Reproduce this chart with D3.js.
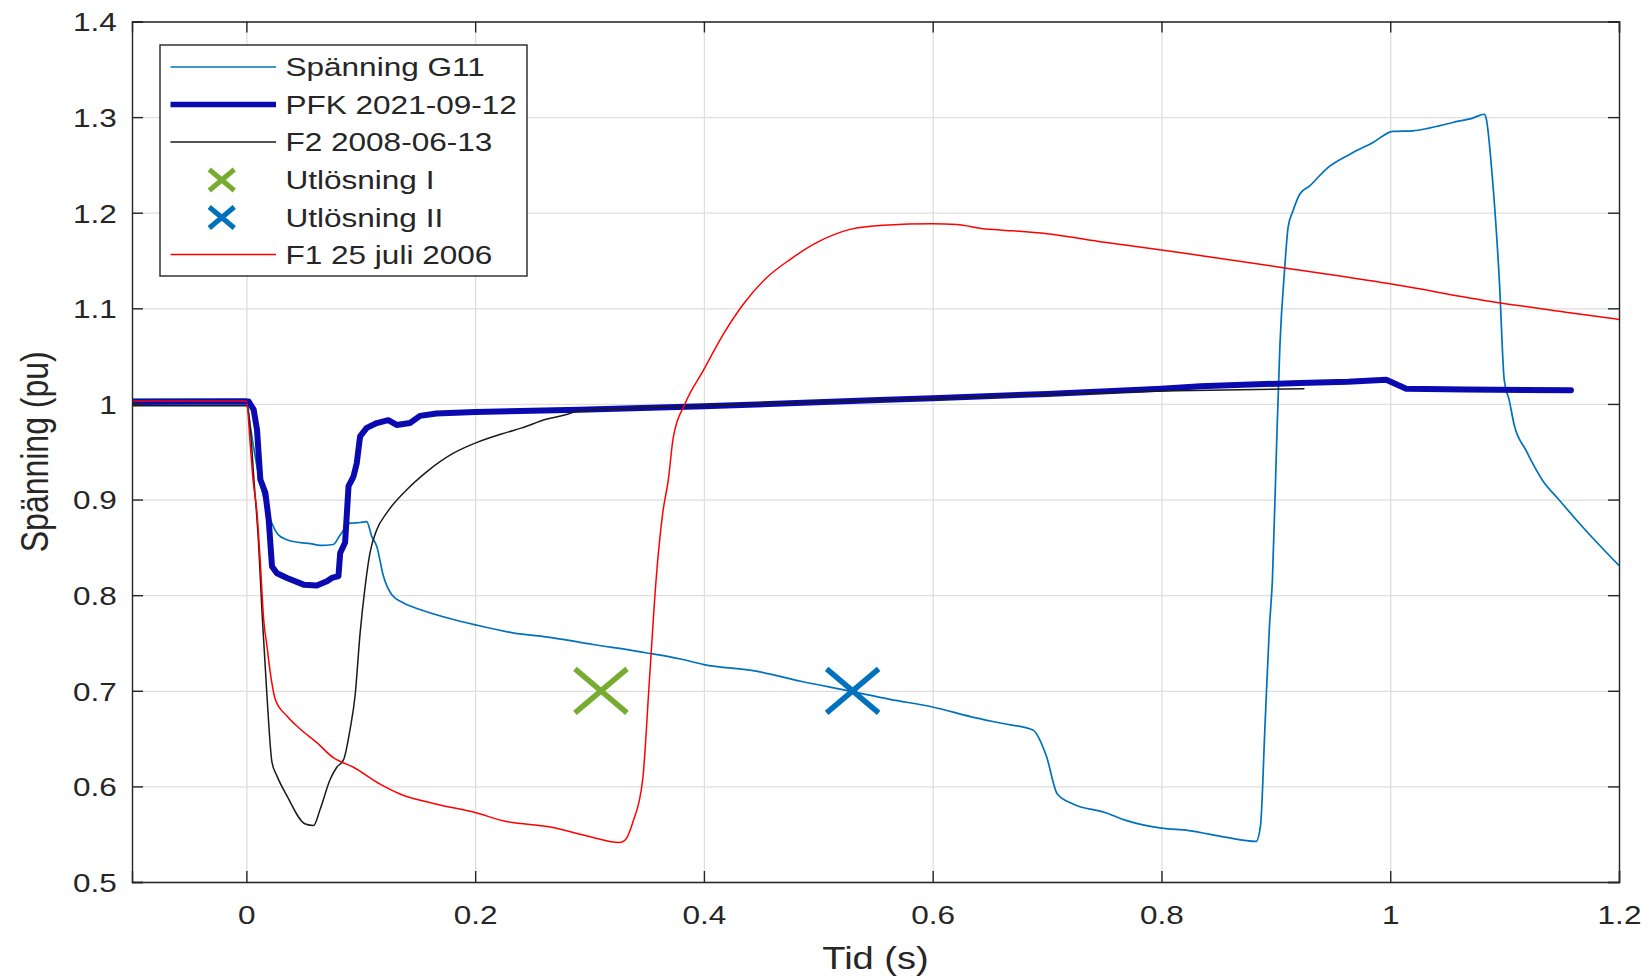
<!DOCTYPE html>
<html>
<head>
<meta charset="utf-8">
<script src="https://cdn.jsdelivr.net/npm/d3@7"></script>
<style>
  html, body { margin: 0; padding: 0; background: #ffffff; }
  svg { display: block; }
  text { font-family: "Liberation Sans", Arial, Helvetica, sans-serif; fill: #262626; }
</style>
</head>
<body>
<svg id="chart" width="1650" height="979"></svg>
<script>
// ---------------- data ----------------
const xTicks = [0, 0.2, 0.4, 0.6, 0.8, 1, 1.2];
const yTicks = [0.5, 0.6, 0.7, 0.8, 0.9, 1, 1.1, 1.2, 1.3, 1.4];
const xTickLabels = ["0", "0.2", "0.4", "0.6", "0.8", "1", "1.2"];
const yTickLabels = ["0.5", "0.6", "0.7", "0.8", "0.9", "1", "1.1", "1.2", "1.3", "1.4"];
const seriesNames = ["Spänning G11", "PFK 2021-09-12", "F2 2008-06-13", "Utlösning I", "Utlösning II", "F1 25 juli 2006"];

// Spänning G11 [t, pu]
const g11 = [[-0.1,1.005],[0,1.005],[0.0035,0.976],[0.01,0.93],[0.018,0.89],[0.0224,0.875],[0.028,0.863],[0.0355,0.858],[0.047,0.855],[0.0558,0.854],[0.0645,0.852],[0.076,0.853],[0.082,0.863],[0.0907,0.8754],[0.0994,0.876],[0.1052,0.877],[0.1096,0.8615],[0.114,0.851],[0.1198,0.82],[0.127,0.8006],[0.137,0.792],[0.1518,0.785],[0.181,0.7745],[0.2,0.769],[0.233,0.7606],[0.268,0.7554],[0.303,0.7484],[0.3407,0.7415],[0.348,0.740],[0.3785,0.7335],[0.4,0.7274],[0.4457,0.7205],[0.4847,0.710],[0.5276,0.6997],[0.5627,0.691],[0.6,0.683],[0.633,0.673],[0.66,0.666],[0.6876,0.659],[0.6993,0.632],[0.709,0.592],[0.7227,0.5816],[0.75,0.573],[0.7696,0.5642],[0.8,0.5563],[0.824,0.5538],[0.8554,0.5469],[0.8827,0.5424],[0.8866,0.559],[0.8905,0.663],[0.8944,0.767],[0.897,0.816],[0.9006,0.955],[0.9035,1.0595],[0.9078,1.143],[0.9107,1.1848],[0.915,1.202],[0.921,1.2196],[0.9296,1.228],[0.944,1.2457],[0.9645,1.261],[0.985,1.2735],[1.0023,1.285],[1.0198,1.2857],[1.034,1.2885],[1.0547,1.2944],[1.0721,1.299],[1.0823,1.303],[1.0837,1.2996],[1.0895,1.2335],[1.0954,1.129],[1.0997,1.0247],[1.104,1.004],[1.1084,0.978],[1.1186,0.9516],[1.1332,0.92],[1.1477,0.8995],[1.168,0.8716],[1.2,0.831]];

// PFK 2021-09-12
const pfk = [[-0.1,1.002],[0.002,1.0025],[0.0064,0.994],[0.0093,0.973],[0.0122,0.921],[0.0166,0.907],[0.0195,0.879],[0.0224,0.83],[0.0267,0.823],[0.0355,0.818],[0.05,0.811],[0.0616,0.81],[0.0704,0.8145],[0.0747,0.818],[0.0805,0.82],[0.082,0.844],[0.0863,0.855],[0.0893,0.914],[0.0936,0.924],[0.0965,0.938],[0.0994,0.966],[0.1052,0.975],[0.114,0.98],[0.124,0.983],[0.1314,0.978],[0.143,0.98],[0.1518,0.9875],[0.166,0.99],[0.2,0.9915],[0.291,0.994],[0.4,0.9975],[0.553,1.004],[0.6,1.006],[0.7,1.0105],[0.8,1.016],[0.834,1.0185],[0.921,1.022],[0.963,1.0233],[0.9965,1.0254],[1.014,1.016],[1.066,1.015],[1.158,1.0143]];

// F2 2008-06-13
const f2 = [[-0.1,0.998],[0.0,0.998],[0.0035,0.973],[0.0064,0.924],[0.0108,0.851],[0.0137,0.781],[0.018,0.6945],[0.0224,0.625],[0.0267,0.611],[0.0355,0.59],[0.0515,0.5606],[0.0587,0.559],[0.0645,0.576],[0.0733,0.6075],[0.079,0.62],[0.085,0.628],[0.0907,0.66],[0.095,0.6945],[0.0994,0.76],[0.1038,0.809],[0.108,0.844],[0.114,0.8685],[0.1227,0.886],[0.14,0.91],[0.1576,0.929],[0.181,0.9485],[0.2,0.959],[0.227,0.970],[0.241,0.975],[0.262,0.984],[0.279,0.9886],[0.29,0.9925],[0.3785,0.9972],[0.5,1.002],[0.6,1.0055],[0.7,1.01],[0.8,1.0136],[0.925,1.0158]];

// Utlösning markers
const utlI = [[0.31, 0.70]];
const utlII = [[0.53, 0.70]];

// F1 25 juli 2006
const f1 = [[-0.1,1.003],[0.0,1.003],[0.0035,0.9555],[0.0058,0.9207],[0.0093,0.886],[0.0122,0.8337],[0.0151,0.7745],[0.018,0.7467],[0.0209,0.719],[0.0253,0.691],[0.0355,0.6736],[0.047,0.66],[0.0616,0.6458],[0.076,0.63],[0.0936,0.62],[0.1169,0.6023],[0.1343,0.592],[0.1663,0.5814],[0.2,0.5727],[0.2245,0.564],[0.268,0.557],[0.2971,0.5484],[0.3262,0.5414],[0.3306,0.5432],[0.3378,0.5623],[0.3465,0.6075],[0.3524,0.712],[0.3582,0.8163],[0.364,0.886],[0.3688,0.92],[0.3732,0.965],[0.3834,1.0],[0.3994,1.0348],[0.417,1.073],[0.4344,1.1043],[0.4548,1.132],[0.4752,1.151],[0.4985,1.1687],[0.5277,1.1826],[0.5569,1.187],[0.6,1.1885],[0.621,1.1878],[0.6443,1.1833],[0.6589,1.182],[0.7,1.178],[0.75,1.169],[0.8,1.161],[0.8337,1.1552],[0.9035,1.143],[1.0,1.1256],[1.0837,1.108],[1.1535,1.096],[1.2,1.0884]];

// ---------------- layout ----------------
const L = 132, R = 1619, T = 21.5, B = 882;
const SX = 1.19;               // horizontal text stretch of the original
const AX = "#262626";
const svg = d3.select("#chart");

const x = d3.scaleLinear().domain([-0.1, 1.2]).range([L, R]);
const y = d3.scaleLinear().domain([0.5, 1.4]).range([B, T]);

svg.append("rect").attr("width", 1650).attr("height", 979).attr("fill", "#fff");

// grid
const grid = svg.append("g");
grid.append("g").attr("transform", `translate(0,${B})`)
  .call(d3.axisBottom(x).tickValues(xTicks).tickSize(-(B - T)).tickFormat(""))
  .call(g => g.select(".domain").remove())
  .call(g => g.selectAll("line").attr("stroke", "#dedede").attr("stroke-width", 1.3));
grid.append("g").attr("transform", `translate(${L},0)`)
  .call(d3.axisLeft(y).tickValues(yTicks).tickSize(-(R - L)).tickFormat(""))
  .call(g => g.select(".domain").remove())
  .call(g => g.selectAll("line").attr("stroke", "#dedede").attr("stroke-width", 1.3));

// data
svg.append("clipPath").attr("id", "clip").append("rect")
  .attr("x", L).attr("y", T).attr("width", R - L).attr("height", B - T);
const plot = svg.append("g").attr("clip-path", "url(#clip)");
const line = d3.line().x(d => x(d[0])).y(d => y(d[1]));
const smooth = d3.line().x(d => x(d[0])).y(d => y(d[1])).curve(d3.curveMonotoneX);

plot.append("path").datum(g11).attr("d", smooth).attr("fill", "none")
  .attr("stroke", "#0072BD").attr("stroke-width", 1.7).attr("stroke-linejoin", "round");
plot.append("path").datum(pfk).attr("d", line).attr("fill", "none")
  .attr("stroke", "#0a0ab0").attr("stroke-width", 6).attr("stroke-linejoin", "round").attr("stroke-linecap", "round");
plot.append("path").datum(f2).attr("d", smooth).attr("fill", "none")
  .attr("stroke", "#1a1a1a").attr("stroke-width", 1.5).attr("stroke-linejoin", "round");

function cross(g, cx, cy, hx, hy, color, w) {
  g.append("path")
    .attr("d", `M${cx - hx},${cy - hy}L${cx + hx},${cy + hy}M${cx - hx},${cy + hy}L${cx + hx},${cy - hy}`)
    .attr("stroke", color).attr("stroke-width", w).attr("fill", "none");
}
utlI.forEach(d => cross(plot, x(d[0]), y(d[1]), 26, 22, "#77AC30", 5.5));
utlII.forEach(d => cross(plot, x(d[0]), y(d[1]), 26, 22, "#0072BD", 5.5));

plot.append("path").datum(f1).attr("d", smooth).attr("fill", "none")
  .attr("stroke", "#ff0000").attr("stroke-width", 1.5).attr("stroke-linejoin", "round");

// axes box + inward ticks
const TK = 11;
const axB = svg.append("g").attr("transform", `translate(0,${B})`)
  .call(d3.axisBottom(x).tickValues(xTicks).tickSize(-TK).tickFormat((d, i) => xTickLabels[i]));
axB.selectAll("text").attr("y", 33).attr("dy", "0.35em")
  .attr("transform", `scale(${SX},1)`).style("font-size", "26.5px").attr("fill", AX);
const axT = svg.append("g").attr("transform", `translate(0,${T})`)
  .call(d3.axisTop(x).tickValues(xTicks).tickSize(-TK).tickFormat(""));
const axL = svg.append("g").attr("transform", `translate(${L},0)`)
  .call(d3.axisLeft(y).tickValues(yTicks).tickSize(-TK).tickFormat((d, i) => yTickLabels[i]));
axL.selectAll("text").attr("x", -15.3 / SX).attr("dy", "0.35em")
  .attr("transform", `scale(${SX},1)`).style("font-size", "26.5px").attr("fill", AX);
const axR = svg.append("g").attr("transform", `translate(${R},0)`)
  .call(d3.axisRight(y).tickValues(yTicks).tickSize(-TK).tickFormat(""));
[axB, axT, axL, axR].forEach(a => {
  a.select(".domain").attr("stroke", AX).attr("stroke-width", 1.4);
  a.selectAll(".tick line").attr("stroke", AX).attr("stroke-width", 1.4);
});

// axis labels
svg.append("g").attr("transform", `translate(${(L + R) / 2},958) scale(${SX},1)`)
  .append("text").attr("text-anchor", "middle").attr("dy", "0.35em")
  .style("font-size", "32px").text("Tid (s)");
svg.append("g").attr("transform", `translate(35,${(T + B) / 2}) rotate(-90) scale(1,${SX})`)
  .append("text").attr("text-anchor", "middle").attr("dy", "0.35em")
  .style("font-size", "32px").text("Spänning (pu)");

// legend
const lg = svg.append("g");
lg.append("rect").attr("x", 160).attr("y", 45).attr("width", 367).attr("height", 231)
  .attr("fill", "#fff").attr("stroke", AX).attr("stroke-width", 1.4);
const rowsY = [67, 104.5, 142, 180, 217.5, 254.5];
const lx0 = 170.5, lx1 = 276, tx = 285.5;
const legendStyles = [
  {type: "line", color: "#0072BD", w: 1.7},
  {type: "line", color: "#0a0ab0", w: 5.7},
  {type: "line", color: "#1a1a1a", w: 1.5},
  {type: "cross", color: "#77AC30"},
  {type: "cross", color: "#0072BD"},
  {type: "line", color: "#ff0000", w: 1.5}
];
seriesNames.forEach((name, i) => {
  const st = legendStyles[i], ry = rowsY[i];
  if (st.type === "line") {
    lg.append("line").attr("x1", lx0).attr("x2", lx1).attr("y1", ry).attr("y2", ry)
      .attr("stroke", st.color).attr("stroke-width", st.w);
  } else {
    cross(lg, (lx0 + lx1) / 2 - 1.5, ry, 12.5, 10.5, st.color, 5);
  }
  lg.append("g").attr("transform", `translate(${tx},${ry}) scale(${SX},1)`)
    .append("text").attr("dy", "0.35em").style("font-size", "26.5px").attr("fill", "#000").text(name);
});
</script>
</body>
</html>
